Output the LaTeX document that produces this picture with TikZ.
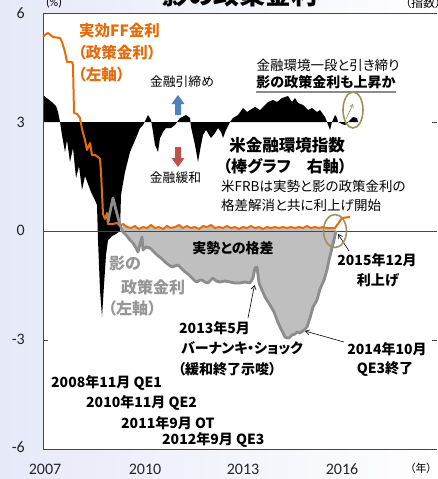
\documentclass[tikz,border=0pt]{standalone}
\usepackage{fontspec}
\setmainfont{Carlito}
\newfontfamily\jp[RawFeature=+palt]{Noto Sans CJK JP}
\usetikzlibrary{arrows.meta}
\definecolor{ffor}{RGB}{228,108,10}
\definecolor{shln}{RGB}{140,140,140}
\definecolor{shfl}{RGB}{191,191,191}
\definecolor{shtx}{RGB}{150,150,150}
\definecolor{bgl}{RGB}{230,233,248}
\definecolor{olv}{RGB}{158,145,95}
\definecolor{axc}{RGB}{70,70,70}
\definecolor{upc}{RGB}{79,129,189}
\definecolor{dnc}{RGB}{192,80,77}
\begin{document}
\begin{tikzpicture}[x=1pt,y=-1pt,
  jreg/.style={font=\jp\fontsize{13.5}{15}\selectfont, inner sep=0pt, text=black},
  jbold/.style={font=\jp\bfseries\fontsize{14}{16}\selectfont, inner sep=0pt, text=black},
  orlab/.style={font=\jp\bfseries\fontsize{15.5}{17}\selectfont, inner sep=0pt, text=ffor},
  shlab/.style={font=\jp\bfseries\fontsize{16}{18}\selectfont, inner sep=0pt, text=shtx},
  axlab/.style={font=\fontsize{16}{18}\selectfont, inner sep=0pt, text=black!85},
  annot/.style={draw=black, line width=0.6pt, -{Straight Barb[length=4pt,width=5pt]}},
  ring/.style={draw=olv, line width=1.6pt},
  axline/.style={draw=axc, line width=0.9pt}]
\useasboundingbox (0,0) rectangle (437,479);
\clip (0,0) rectangle (437,479);
% background
\shade[left color=bgl, right color=white] (0,0) rectangle (437,479);
\fill[white] (43,13) rectangle (437,449);
% title (cut off at the top, as in the reference)
\node[font=\jp\bfseries\fontsize{26}{28}\selectfont, anchor=base, inner sep=0pt] (title) at (240,5) {影の政策金利};
\node[font=\fontsize{12}{14}\selectfont, anchor=base, inner sep=0pt] (pct) at (54,6) {(\%)};
\node[font=\jp\fontsize{12}{14}\selectfont, anchor=base west, inner sep=0pt] (idxu) at (405,7) {（指数）};
% financial conditions index (black)
\fill[black] (43,122) -- (43,95) -- (48,99) -- (53,103) -- (56,106) -- (58,112) -- (60,122) -- (62,135) -- (65,152) -- (67,140) -- (70,162) -- (73,148) -- (76,178) -- (79,166) -- (82,190) -- (85,176) -- (88,184) -- (91,192) -- (94,198) -- (97,205) -- (98,240) -- (100,290) -- (102,317) -- (104,285) -- (106,255) -- (108,240) -- (112,236) -- (116,234) -- (120,231) -- (121,195) -- (125,172) -- (130,152) -- (133,145) -- (136,138) -- (140,128) -- (143,125) -- (145,121) -- (148,115) -- (151,120) -- (153,132) -- (155,145) -- (158,152) -- (160,138) -- (163,132) -- (166,128) -- (171,128) -- (175,125) -- (180,118) -- (186,115) -- (190,118) -- (191,127) -- (195,145) -- (198,162) -- (201,145) -- (203,135) -- (206,130) -- (211,138) -- (215,133) -- (218,128) -- (221,132) -- (223,138) -- (226,130) -- (230,122) -- (233,118) -- (238,115) -- (243,108) -- (247,112) -- (250,110) -- (255,107) -- (260,110) -- (265,105) -- (268,102) -- (273,100) -- (277,102) -- (282,98) -- (288,96) -- (292,102) -- (295,98) -- (298,103) -- (303,105) -- (308,110) -- (312,108) -- (317,112) -- (320,110) -- (325,117) -- (327,122) -- (330,130) -- (332,122) -- (335,115) -- (337,118) -- (338,122) -- (342,124) -- (345,125) -- (350,120) -- (353,117) -- (357,118) -- (358,122) -- cycle;
% gap fill between actual and shadow rate
\fill[shfl] (123,224) -- (127,227) -- (131,228) -- (135,226) -- (139,229) -- (143,227) -- (147,228) -- (151,225) -- (155,228) -- (159,227) -- (163,229) -- (167,226) -- (171,228) -- (175,227) -- (179,225) -- (183,228) -- (187,226) -- (191,228) -- (195,227) -- (199,229) -- (203,226) -- (207,227) -- (211,225) -- (215,228) -- (219,227) -- (223,228) -- (227,226) -- (231,228) -- (235,227) -- (239,229) -- (243,227) -- (247,228) -- (251,226) -- (255,228) -- (259,227) -- (263,229) -- (267,227) -- (271,228) -- (275,227) -- (279,228) -- (283,227) -- (287,228) -- (291,227) -- (295,228) -- (299,227) -- (303,228) -- (307,226) -- (311,228) -- (315,227) -- (319,228) -- (323,227) -- (327,228) -- (331,228) -- (335,228)
 -- (336,231) -- (334,240) -- (332,248) -- (329,260) -- (327,270) -- (324,280) -- (320,289) -- (317,300) -- (313,307) -- (310,318) -- (307,327) -- (304,330) -- (300,333) -- (297,332) -- (295,334) -- (292,335) -- (289,338) -- (287,338) -- (285,337) -- (283,333) -- (280,327) -- (277,320) -- (274,312) -- (270,305) -- (265,297) -- (262,290) -- (259,283) -- (257,267) -- (255,268) -- (253,278) -- (250,283) -- (245,282) -- (240,283) -- (235,283) -- (230,282) -- (225,281) -- (220,282) -- (216,281) -- (213,278) -- (211,280) -- (208,283) -- (205,282) -- (202,280) -- (200,280) -- (197,282) -- (195,281) -- (192,278) -- (188,274) -- (184,271) -- (181,268) -- (178,265) -- (175,266) -- (172,267) -- (169,265) -- (165,262) -- (161,258) -- (157,255) -- (154,252) -- (150,248) -- (146,247) -- (143,250) -- (142,237) -- (140,244) -- (138,252) -- (136,248) -- (133,243) -- (130,240) -- (127,236) -- (123,232) -- cycle;
% axes
\draw[axline] (43,231) -- (437,231);
\draw[axline] (437,13) -- (43,13) -- (43,449) -- (437,449);
\draw[axline] (43,340) -- (48,340);
\draw[axline] (432,122) -- (437,122);
\draw[axline] (432,340) -- (437,340);
% effective FF rate
\draw[ffor, line width=2pt, line join=round] (43,37) -- (45,35) -- (48,33) -- (53,37) -- (60,38) -- (62,42) -- (65,52) -- (67,62) -- (72,62) -- (73,65) -- (74,113) -- (77,114) -- (80,118) -- (82,129) -- (85,140) -- (87,150) -- (90,143) -- (92,155) -- (95,155) -- (98,157) -- (100,159) -- (101,172) -- (103,214) -- (105,219) -- (107,213) -- (108,224) -- (113,224) -- (117,223) -- (120,226) -- (123,224) -- (127,227) -- (131,228) -- (135,226) -- (139,229) -- (143,227) -- (147,228) -- (151,225) -- (155,228) -- (159,227) -- (163,229) -- (167,226) -- (171,228) -- (175,227) -- (179,225) -- (183,228) -- (187,226) -- (191,228) -- (195,227) -- (199,229) -- (203,226) -- (207,227) -- (211,225) -- (215,228) -- (219,227) -- (223,228) -- (227,226) -- (231,228) -- (235,227) -- (239,229) -- (243,227) -- (247,228) -- (251,226) -- (255,228) -- (259,227) -- (263,229) -- (267,227) -- (271,228) -- (275,227) -- (279,228) -- (283,227) -- (287,228) -- (291,227) -- (295,228) -- (299,227) -- (303,228) -- (307,226) -- (311,228) -- (315,227) -- (319,228) -- (323,227) -- (327,228) -- (331,228) -- (335,228) -- (342,218) -- (350,217);
% shadow rate
\draw[shln, line width=2.8pt, line join=round] (108,222) -- (110,212) -- (113,198) -- (116,210) -- (120,225) -- (123,232) -- (127,236) -- (130,240) -- (133,243) -- (136,248) -- (138,252) -- (140,244) -- (142,237) -- (143,250) -- (146,247) -- (150,248) -- (154,252) -- (157,255) -- (161,258) -- (165,262) -- (169,265) -- (172,267) -- (175,266) -- (178,265) -- (181,268) -- (184,271) -- (188,274) -- (192,278) -- (195,281) -- (197,282) -- (200,280) -- (202,280) -- (205,282) -- (208,283) -- (211,280) -- (213,278) -- (216,281) -- (220,282) -- (225,281) -- (230,282) -- (235,283) -- (240,283) -- (245,282) -- (250,283) -- (253,278) -- (255,268) -- (257,267) -- (259,283) -- (262,290) -- (265,297) -- (270,305) -- (274,312) -- (277,320) -- (280,327) -- (283,333) -- (285,337) -- (287,338) -- (289,338) -- (292,335) -- (295,334) -- (297,332) -- (300,333) -- (304,330) -- (307,327) -- (310,318) -- (313,307) -- (317,300) -- (320,289) -- (324,280) -- (327,270) -- (329,260) -- (332,248) -- (334,240) -- (336,231);
% axis labels
\node[axlab, anchor=east] (l6) at (25,13) {6};
\node[axlab, anchor=east] (l3) at (25,122) {3};
\node[axlab, anchor=east] (l0) at (25,230) {0};
\node[axlab, anchor=east] (lm3) at (25,339) {-3};
\node[axlab, anchor=east] (lm6) at (25,447) {-6};
\node[axlab] (x07) at (45,469) {2007};
\node[axlab] (x10) at (145,469) {2010};
\node[axlab] (x13) at (243,469) {2013};
\node[axlab] (x16) at (342,469) {2016};
\node[font=\jp\fontsize{11}{13}\selectfont, inner sep=0pt] (yr) at (421,468) {（年）};
% orange labels
\node[orlab, anchor=west] (ff1) at (79,31) {実効FF金利};
\node[orlab, anchor=west] (ff2) at (78,53) {（政策金利）};
\node[orlab, anchor=west] (ff3) at (78,75) {（左軸）};
% tightening / easing
\node[font=\jp\fontsize{12.8}{14}\selectfont, inner sep=0pt] (tight) at (182,82) {金融引締め};
\fill[upc] (178,95) -- (184.5,104) -- (181,104) -- (181,115) -- (175,115) -- (175,104) -- (171.5,104) -- cycle;
\fill[dnc] (178,167) -- (184.5,158) -- (181,158) -- (181,147) -- (175,147) -- (175,158) -- (171.5,158) -- cycle;
\node[font=\jp\fontsize{12.8}{14}\selectfont, inner sep=0pt] (ease) at (175.5,178) {金融緩和};
% upper right notes
\node[jreg] (n1) at (328,65) {金融環境一段と引き締り};
\node[jbold] (n2) at (326,82) {影の政策金利も上昇か};
\draw[shln, line width=1.3pt] (n2.south west) ++(0,3) coordinate (ul1) -- (n2.south east |- ul1) coordinate (ul2);
\node[font=\jp\bfseries\fontsize{16.5}{18}\selectfont, inner sep=0pt] (i1) at (287,145) {米金融環境指数};
\node[font=\jp\bfseries\fontsize{16}{18}\selectfont, inner sep=0pt] (i2) at (285,166) {（棒グラフ　右軸）};
\node[jreg, anchor=west] (f1) at (221,186) {米FRBは実勢と影の政策金利の};
\node[jreg, anchor=west] (f2) at (221,205) {格差解消と共に利上げ開始};
% gap label
\node[jbold] (gap) at (233,248) {実勢との格差};
% shadow labels
\node[shlab, anchor=west] (s1) at (109,264) {影の};
\node[shlab, anchor=west] (s2) at (121,287) {政策金利};
\node[shlab, anchor=west] (s3) at (108,308) {（左軸）};
% Bernanke shock
\node[jbold, anchor=west] (b1) at (179,328) {2013年5月};
\node[jbold, anchor=west] (b2) at (181,348) {バーナンキ・ショック};
\node[jbold, anchor=west] (b3) at (178,369) {（緩和終了示唆）};
\coordinate (bs) at (248,318);
\coordinate (bp) at (254.5,285);
\draw[annot] (bs) -- (bp);
% QE list
\node[jbold, anchor=west] (q1) at (51,383) {2008年11月 QE1};
\node[jbold, anchor=west] (q2) at (86,403) {2010年11月 QE2};
\node[jbold, anchor=west] (q3) at (121,423) {2011年9月 OT};
\node[jbold, anchor=west] (q4) at (162,440) {2012年9月 QE3};
% rate hike
\node[jbold] (h1) at (377,260) {2015年12月};
\node[jbold] (h2) at (378,280) {利上げ};
\coordinate (hs) at (349,251);
\coordinate (hp) at (338,234);
\draw[annot] (hs) -- (hp);
\draw[ring] (335,231) ellipse [x radius=11.5, y radius=16.5];
% QE3 end
\node[jbold] (e1) at (387,349) {2014年10月};
\node[jbold] (e2) at (385,369) {QE3終了};
\coordinate (es) at (344,342);
\coordinate (ep) at (305,331);
\draw[annot] (es) -- (ep);
% upper ring with arrow
\draw[ring] (353,110) ellipse [x radius=10, y radius=18];
\coordinate (ra) at (346,119);
\coordinate (rb) at (353,104);
\draw[olv, line width=0.7pt, -{Straight Barb[length=3pt,width=4pt]}] (ra) -- (rb);
\end{tikzpicture}
\end{document}
